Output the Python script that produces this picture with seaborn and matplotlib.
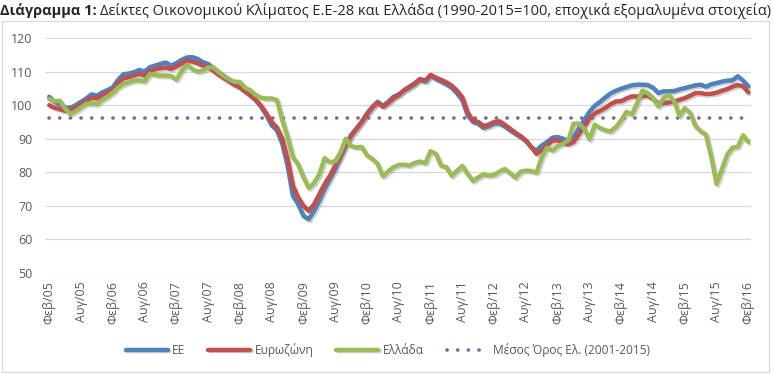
import numpy as np
import matplotlib
matplotlib.use("Agg")
import matplotlib.pyplot as plt
import matplotlib.patheffects as pe
import seaborn as sns

sns.set_style("white")
plt.rcParams['font.family'] = ['Open Sans', 'DejaVu Sans']

# monthly values, Feb 2005 - Feb 2016
ee = [102.5, 101, 100.2, 99.3, 99.2, 100, 101, 102, 103.2, 102.8,
      103.8, 104.5, 105.3, 107.5, 109.2, 109.4, 109.8, 110.5, 110, 111.3,
      111.8, 112.3, 112.7, 111.8, 112.5, 113.5, 114.2, 114.3, 113.8, 112.8,
      112.3, 111, 109.8, 108.7, 107.6, 106.5, 105.6, 104.2, 103, 101.5,
      99.5, 97, 94, 92.5, 88.5, 82, 73, 70.5, 67, 66,
      68.5, 71.5, 75, 78, 81, 84.5, 88, 91, 93, 95,
      97.5, 99.5, 101, 99.8, 101, 102.5, 103.2, 104.3, 105.2, 106.3,
      107.5, 107, 108.8, 107.8, 107, 106.2, 105.2, 103.5, 101.5, 97,
      95, 94.5, 93.2, 93.7, 94.5, 94.5, 93.7, 92.5, 91.5, 90.5,
      89.3, 87.5, 86.5, 88, 89, 90.3, 90.5, 90, 89.3, 90.5,
      93, 95.5, 98, 99.8, 101, 102.3, 103.5, 104.3, 104.9, 105.4,
      105.9, 106.1, 106.1, 106, 105.2, 103.6, 104.1, 104.1, 104.2, 104.7,
      105.1, 105.5, 105.9, 106.1, 105.5, 106.2, 106.6, 107, 107.3, 107.4,
      108.6, 107.3, 105.6]

eurozone = [100, 99.2, 98.8, 98.3, 98.5, 99.3, 100.2, 101.2, 102.2, 102,
            103, 103.7, 104.4, 106.5, 108, 108.3, 108.8, 109.3, 108.8, 110.2,
            110.7, 111, 111.2, 110.8, 111.5, 112.4, 113.2, 113, 112.5, 111.8,
            111.3, 110.2, 109, 108, 107, 106, 105.2, 104, 102.8, 101.5,
            99.8, 97.5, 95, 93.3, 90, 84, 76, 72.5, 70, 68.5,
            70.5, 73.5, 76.5, 79, 82, 85, 88.2, 91, 93, 95,
            97.3, 99.3, 100.8, 99.5, 100.7, 102, 103, 104.5, 105.5, 106.5,
            107.8, 107.3, 109, 108.2, 107.5, 106.8, 105.8, 104.3, 102.3, 97.7,
            95.5, 95, 93.8, 94.2, 95, 95.2, 94.2, 93, 91.8, 90.8,
            89.5, 87.5, 85.5, 86.5, 88, 89.5, 89.5, 88.8, 88.3, 89,
            91.3, 93.5, 96, 97.5, 98.3, 99.2, 100.3, 101.1, 101.2, 102,
            102.6, 102.6, 102.7, 102.8, 101.8, 100.6, 100.6, 100.8, 101.1, 101.6,
            102.1, 102.8, 103.6, 103.6, 103.3, 103.4, 103.7, 104.3, 104.8, 105.5,
            106, 105.6, 103.8]

greece = [101.8, 101.2, 101.3, 99, 97.3, 98.2, 99.3, 100.4, 100.5, 100.3,
          101.6, 102.5, 103.7, 105.2, 106.3, 106.8, 107.3, 107.4, 107.1, 109.3,
          109, 108.8, 108.8, 108.7, 107.6, 110.2, 112, 110.8, 110, 110.3,
          111.2, 111.3, 109.8, 108.6, 107.6, 107, 106.9, 105.2, 104.4, 103,
          102.2, 102, 102, 101.5, 95.5, 90.5, 84.5, 82.3, 78.5, 75.3,
          76.8, 79.5, 84.2, 83, 83.3, 86, 90, 87.8, 87.4, 87.6,
          85, 84, 82.5, 78.8, 80.3, 81.5, 82.2, 82.3, 82, 82.8,
          83.2, 82.7, 86.3, 85.5, 82, 81.5, 78.9, 80.5, 81.9, 79.5,
          77.4, 78.5, 79.4, 79, 79.2, 80.2, 81, 79.8, 78.4, 80.2,
          80.5, 80.4, 79.9, 84.5, 87.3, 86.5, 87.8, 88.5, 89.5, 94.5,
          94.5, 93, 89.8, 94.2, 93.2, 92.5, 92.2, 93.5, 95.5, 98,
          97.2, 100.6, 104.3, 103.6, 102.1, 99.6, 102.1, 103.1, 101.1, 96.8,
          99.1, 97.7, 93.8, 92.2, 91.2, 84.5, 76.5, 80.9, 85.3, 87.3,
          87.6, 91, 89]

greece_avg = 96.3  # Μέσος Όρος Ελ. (2001-2015)

tick_labels = ['Φεβ/05', 'Αυγ/05', 'Φεβ/06', 'Αυγ/06', 'Φεβ/07', 'Αυγ/07',
               'Φεβ/08', 'Αυγ/08', 'Φεβ/09', 'Αυγ/09', 'Φεβ/10', 'Αυγ/10',
               'Φεβ/11', 'Αυγ/11', 'Φεβ/12', 'Αυγ/12', 'Φεβ/13', 'Αυγ/13',
               'Φεβ/14', 'Αυγ/14', 'Φεβ/15', 'Αυγ/15', 'Φεβ/16']

x = np.arange(len(ee))
grey_txt = '#595959'

fig = plt.figure(figsize=(7.73, 3.74), dpi=100)
ax = fig.add_axes([45 / 773, 1 - 273 / 374, 706 / 773, 235 / 374])

shadow = [pe.SimpleLineShadow(offset=(1.2, -1.2), shadow_color='#7f7f7f', alpha=0.35),
          pe.Normal()]

sns.lineplot(x=x, y=[greece_avg] * len(x), ax=ax, color='#8064A2', lw=2.6,
             linestyle=(0, (0.05, 2.9)), dash_capstyle='round',
             label='Μέσος Όρος Ελ. (2001-2015)', zorder=2)
sns.lineplot(x=x, y=ee, ax=ax, color='#4F81BD', lw=3.2, label='ΕΕ',
             path_effects=shadow, zorder=3)
sns.lineplot(x=x, y=eurozone, ax=ax, color='#C0504D', lw=3.2, label='Ευρωζώνη',
             path_effects=shadow, zorder=4)
sns.lineplot(x=x, y=greece, ax=ax, color='#9BBB59', lw=3.2, label='Ελλάδα',
             path_effects=shadow, zorder=5)

ax.set_ylim(50, 120)
ax.set_yticks(range(50, 121, 10))
ax.set_xlim(-0.8, 132.5)
ax.set_xticks(np.arange(0, len(x), 6))
ax.set_xticklabels(tick_labels, rotation=90)
ax.tick_params(axis='both', length=0, labelsize=9, colors=grey_txt)
ax.tick_params(axis='y', pad=9)
ax.tick_params(axis='x', pad=6)
ax.grid(axis='y', color='#D9D9D9', lw=0.9)
ax.grid(axis='x', visible=False)
for s in ax.spines.values():
    s.set_visible(False)
ax.set_xlabel('')
ax.set_ylabel('')

# legend below the axis
handles, labels = ax.get_legend_handles_labels()
if ax.get_legend() is not None:
    ax.get_legend().remove()
order = [labels.index(l) for l in ['ΕΕ', 'Ευρωζώνη', 'Ελλάδα', 'Μέσος Όρος Ελ. (2001-2015)']]
fig.legend([handles[i] for i in order], [labels[i] for i in order],
           loc='center', bbox_to_anchor=(0.502, 1 - 350 / 374), ncol=4,
           frameon=False, fontsize=8.6, handlelength=3.5, columnspacing=1.9,
           handletextpad=0.4, labelcolor=grey_txt)

# chart border
fig.patches.append(plt.Rectangle((2 / 773, 2 / 374), 767 / 773, 351 / 374,
                                 transform=fig.transFigure, fill=False,
                                 edgecolor='#D9D9D9', lw=0.9))

# title: bold prefix + regular text
t1 = fig.text(0.0, 1 - 11 / 374, 'Διάγραμμα 1:', fontsize=10.5, fontweight='bold',
              va='center', ha='left')
fig.canvas.draw()
bb = t1.get_window_extent(fig.canvas.get_renderer())
fig.text(bb.x1 / fig.bbox.width + 0.004, 1 - 11 / 374,
         'Δείκτες Οικονομικού Κλίματος Ε.Ε-28 και Ελλάδα (1990-2015=100, εποχικά εξομαλυμένα στοιχεία)',
         fontsize=10.5, va='center', ha='left')

fig.savefig('out.png', dpi=100)
